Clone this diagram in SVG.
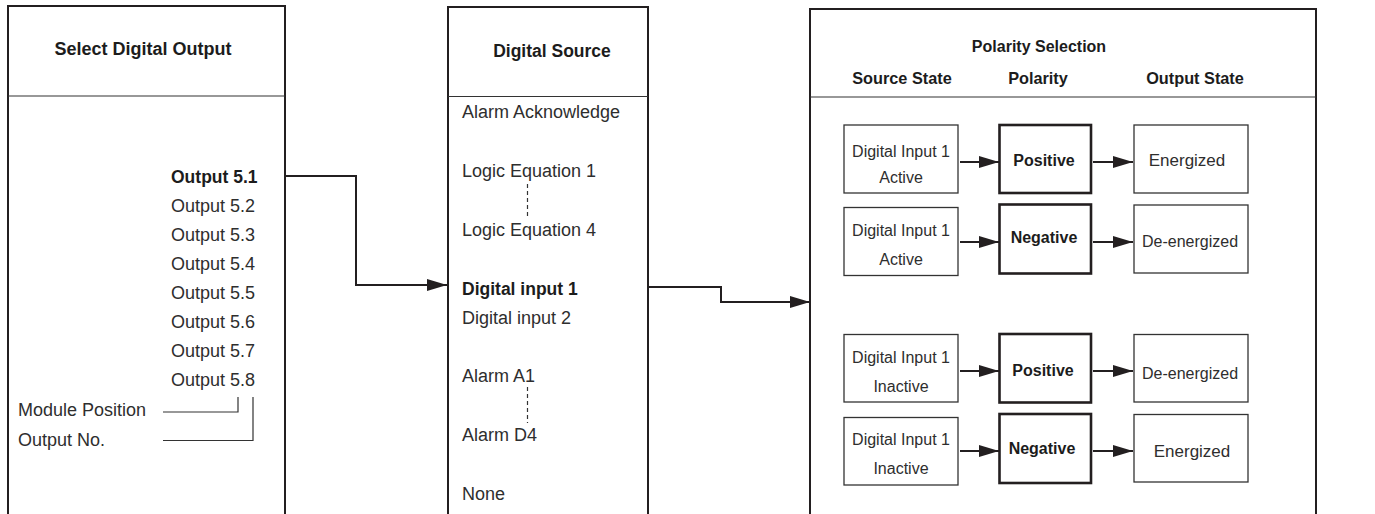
<svg xmlns="http://www.w3.org/2000/svg" width="1375" height="514" viewBox="0 0 1375 514">
<style>
text{font-family:"Liberation Sans",Arial,Helvetica,sans-serif;}
.t{font-size:18px;fill:#2e2e2e;}
.b{font-weight:bold;fill:#1c1c1c;}
.h{font-size:17.5px;font-weight:bold;fill:#1c1c1c;text-anchor:middle;}
.bx{font-size:16px;fill:#2e2e2e;text-anchor:middle;}
.pb{font-size:16px;font-weight:bold;fill:#1c1c1c;text-anchor:middle;}
.panel{fill:none;stroke:#231f20;stroke-width:2;}
.div{stroke:#333;stroke-width:1.2;}
.thin{fill:#fff;stroke:#333;stroke-width:1.3;}
.thick{fill:#fff;stroke:#231f20;stroke-width:2.6;}
.conn{fill:none;stroke:#231f20;stroke-width:2;}
.brk{fill:none;stroke:#333;stroke-width:1.2;}
.dash{stroke:#333;stroke-width:1.2;stroke-dasharray:4 3;}
</style>
<defs>
<marker id="ah" markerUnits="userSpaceOnUse" markerWidth="20" markerHeight="12" refX="20" refY="6" orient="auto">
<path d="M0,0 L20,6 L0,12 Z" fill="#231f20"/>
</marker>
</defs>
<g id="select-digital-output">
<path class="panel" d="M8 514 V6 H285 V514"/>
<line class="div" x1="8" y1="96" x2="285" y2="96"/>
<text class="t b" x="143" y="55" text-anchor="middle" style="font-size:18px">Select Digital Output</text>
<text class="t b" x="171" y="183" style="font-size:17.5px">Output 5.1</text>
<text class="t" x="171" y="212">Output 5.2</text>
<text class="t" x="171" y="241">Output 5.3</text>
<text class="t" x="171" y="270">Output 5.4</text>
<text class="t" x="171" y="299">Output 5.5</text>
<text class="t" x="171" y="328">Output 5.6</text>
<text class="t" x="171" y="357">Output 5.7</text>
<text class="t" x="171" y="386">Output 5.8</text>
<text class="t" x="18" y="416">Module Position</text>
<text class="t" x="18" y="446">Output No.</text>
<path class="brk" d="M163 412 H238 V397"/>
<path class="brk" d="M163 440.5 H253 V397"/>
</g>
<g id="digital-source">
<path class="panel" d="M448 514 V7 H648 V514"/>
<line class="div" x1="448" y1="96.5" x2="648" y2="96.5"/>
<text class="h" x="552" y="57">Digital Source</text>
<text class="t" x="462" y="118">Alarm Acknowledge</text>
<text class="t" x="462" y="177">Logic Equation 1</text>
<line class="dash" x1="527.5" y1="184" x2="527.5" y2="217"/>
<text class="t" x="462" y="236">Logic Equation 4</text>
<text class="t b" x="462" y="295" style="font-size:17.5px">Digital input 1</text>
<text class="t" x="462" y="324">Digital input 2</text>
<text class="t" x="462" y="382">Alarm A1</text>
<line class="dash" x1="527.5" y1="387" x2="527.5" y2="423"/>
<text class="t" x="462" y="441">Alarm D4</text>
<text class="t" x="462" y="500">None</text>
</g>
<g id="polarity-selection">
<path class="panel" d="M810 514 V9 H1316 V514"/>
<line class="div" x1="810" y1="97" x2="1316" y2="97"/>
<text class="h" x="1039" y="52" style="font-size:16px">Polarity Selection</text>
<text class="h" x="902" y="84" style="font-size:16.3px">Source State</text>
<text class="h" x="1038" y="84" style="font-size:16.3px">Polarity</text>
<text class="h" x="1195" y="84" style="font-size:16.3px">Output State</text>
</g>
<g id="row1">
<rect class="thin" x="844" y="125" width="114" height="68"/>
<text class="bx" x="901" y="157">Digital Input 1</text>
<text class="bx" x="901" y="183">Active</text>
<rect class="thick" x="999.5" y="125" width="91.5" height="68"/>
<text class="pb" x="1044" y="166">Positive</text>
<rect class="thin" x="1134" y="125" width="114" height="68"/>
<text class="bx" x="1187" y="166" style="font-size:17px">Energized</text>
</g>
<g id="row2">
<rect class="thin" x="844" y="207.5" width="114" height="68"/>
<text class="bx" x="901" y="236">Digital Input 1</text>
<text class="bx" x="901" y="265">Active</text>
<rect class="thick" x="999.5" y="204.5" width="91.5" height="69"/>
<text class="pb" x="1044" y="243">Negative</text>
<rect class="thin" x="1134" y="205" width="114" height="68"/>
<text class="bx" x="1190" y="247">De-energized</text>
</g>
<g id="row3">
<rect class="thin" x="844" y="334.5" width="114" height="67.5"/>
<text class="bx" x="901" y="363">Digital Input 1</text>
<text class="bx" x="901" y="392">Inactive</text>
<rect class="thick" x="999.5" y="334" width="91.5" height="68.5"/>
<text class="pb" x="1043" y="376">Positive</text>
<rect class="thin" x="1134" y="334.5" width="114" height="67.5"/>
<text class="bx" x="1190" y="379">De-energized</text>
</g>
<g id="row4">
<rect class="thin" x="844" y="417.5" width="114" height="67.5"/>
<text class="bx" x="901" y="445">Digital Input 1</text>
<text class="bx" x="901" y="474">Inactive</text>
<rect class="thick" x="999.5" y="414" width="91.5" height="69"/>
<text class="pb" x="1042" y="454">Negative</text>
<rect class="thin" x="1134" y="414.5" width="114" height="67.5"/>
<text class="bx" x="1192" y="457" style="font-size:17px">Energized</text>
</g>
<g id="connectors">
<path class="conn" d="M285 176 H356 V285 H447" marker-end="url(#ah)"/>
<path class="conn" d="M648 287 H721 V302 H810" marker-end="url(#ah)"/>
<line class="conn" x1="960" y1="162" x2="999" y2="162" marker-end="url(#ah)"/>
<line class="conn" x1="1093" y1="162" x2="1133" y2="162" marker-end="url(#ah)"/>
<line class="conn" x1="960" y1="242" x2="999" y2="242" marker-end="url(#ah)"/>
<line class="conn" x1="1093" y1="242" x2="1133" y2="242" marker-end="url(#ah)"/>
<line class="conn" x1="960" y1="371" x2="999" y2="371" marker-end="url(#ah)"/>
<line class="conn" x1="1093" y1="371" x2="1133" y2="371" marker-end="url(#ah)"/>
<line class="conn" x1="960" y1="451" x2="999" y2="451" marker-end="url(#ah)"/>
<line class="conn" x1="1093" y1="451" x2="1133" y2="451" marker-end="url(#ah)"/>
</g>
</svg>
